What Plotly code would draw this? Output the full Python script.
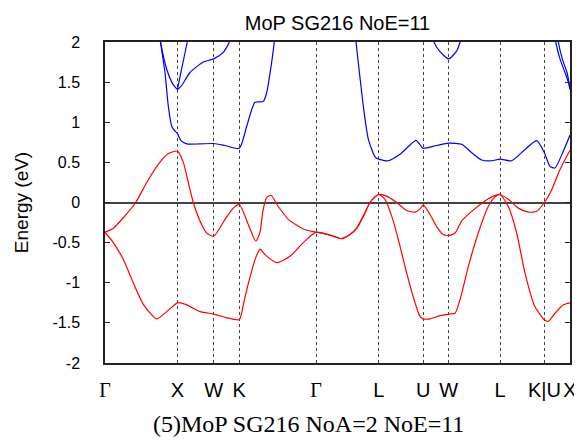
import plotly.graph_objects as go

# High-symmetry points (cumulative path length, 2*pi/a units)
tick_k = [0.0, 1.0, 1.5, 1.8536, 2.9142, 3.7802, 4.3926, 4.7462, 5.4533, 6.0657, 6.4193]
tick_text = ["<span style='font-family:Liberation Serif'>Γ</span>", "X", "W", "K",
             "<span style='font-family:Liberation Serif'>Γ</span>", "L", "U", "W", "L", "K|U", "X"]

# Valence band 1 (lower red)
vb1_k = [0.0, 0.115, 0.253, 0.391, 0.529, 0.714, 0.852, 1.0, 1.128, 1.311, 1.5, 1.657, 1.702,
         1.8536, 1.909, 1.956, 2.080, 2.140, 2.209, 2.370, 2.554, 2.738, 2.9142,
         3.083, 3.268, 3.382, 3.475, 3.566, 3.658, 3.727, 3.7802,
         3.865, 3.958, 4.049, 4.165, 4.280, 4.349, 4.3926, 4.487, 4.625, 4.7462,
         4.832, 4.901, 5.015, 5.153, 5.291, 5.384, 5.4533,
         5.568, 5.683, 5.798, 5.936, 6.0657, 6.120, 6.212, 6.327, 6.4193]
vb1_e = [-0.37, -0.50, -0.71, -1.00, -1.27, -1.45, -1.36, -1.25, -1.275, -1.36, -1.39, -1.43, -1.44,
         -1.46, -1.28, -1.09, -0.69, -0.58, -0.65, -0.75, -0.67, -0.50, -0.37,
         -0.40, -0.45, -0.40, -0.32, -0.17, 0.0, 0.07, 0.10,
         0.04, -0.17, -0.46, -0.88, -1.25, -1.42, -1.45, -1.45, -1.41, -1.39,
         -1.38, -1.21, -0.80, -0.38, -0.05, 0.07, 0.10,
         -0.05, -0.38, -0.88, -1.30, -1.46, -1.48, -1.38, -1.275, -1.25]

# Valence band 2 (upper red)
vb2_k = [0.0, 0.115, 0.253, 0.424, 0.576, 0.736, 0.874, 1.0, 1.081, 1.150, 1.219, 1.311, 1.404, 1.5,
         1.657, 1.771, 1.8536, 1.978, 2.080, 2.140, 2.181, 2.232, 2.292, 2.392, 2.530, 2.738, 2.9142,
         3.083, 3.268, 3.382, 3.475, 3.566, 3.658, 3.727, 3.7802,
         3.889, 4.027, 4.165, 4.280, 4.349, 4.3926, 4.487, 4.579, 4.670, 4.7462,
         4.832, 4.924, 5.062, 5.246, 5.360, 5.4533,
         5.568, 5.706, 5.844, 5.959, 6.0657, 6.167, 6.281, 6.4193]
vb2_e = [-0.37, -0.32, -0.19, 0.0, 0.25, 0.475, 0.61, 0.64, 0.50, 0.25, 0.0, -0.23, -0.38, -0.42,
         -0.21, -0.07, -0.025, -0.275, -0.48, -0.37, -0.10, 0.06, 0.09, -0.05, -0.21, -0.33, -0.37,
         -0.40, -0.45, -0.40, -0.32, -0.17, 0.0, 0.07, 0.10,
         0.08, 0.0, -0.10, -0.12, -0.08, -0.03, -0.15, -0.30, -0.40, -0.41,
         -0.38, -0.23, -0.11, 0.02, 0.08, 0.10,
         0.04, -0.07, -0.12, -0.11, 0.0, 0.16, 0.41, 0.65]

# Conduction band 1 (lower blue), two visible pieces
cb1a_k = [0.736, 0.766, 0.828, 0.874, 0.921, 0.966, 1.0, 1.049, 1.128, 1.311, 1.5, 1.657,
          1.8536, 1.956, 2.034, 2.071, 2.186, 2.232, 2.301, 2.337, 2.36]
cb1a_e = [2.2, 2.0, 1.62, 1.20, 0.95, 0.89, 0.86, 0.77, 0.73, 0.73, 0.735, 0.71,
          0.675, 0.95, 1.18, 1.25, 1.26, 1.37, 1.75, 2.0, 2.2]
cb1b_k = [3.44, 3.465, 3.566, 3.635, 3.727, 3.7802, 3.911, 4.072, 4.293, 4.349, 4.3926,
          4.579, 4.7462, 4.924, 5.062, 5.200, 5.338, 5.4533, 5.614, 5.798, 5.959,
          6.0657, 6.143, 6.212, 6.327, 6.4193]
cb1b_e = [2.2, 2.0, 1.20, 0.79, 0.57, 0.54, 0.52, 0.60, 0.775, 0.72, 0.675,
          0.71, 0.74, 0.725, 0.62, 0.53, 0.52, 0.54, 0.52, 0.66, 0.77,
          0.62, 0.45, 0.43, 0.64, 0.84]

# Conduction band 2 (Gamma-X-W-K)
cb2_k = [0.74, 0.766, 0.852, 0.921, 0.966, 1.0, 1.059, 1.173, 1.357, 1.5, 1.633, 1.716, 1.74]
cb2_e = [2.15, 2.0, 1.66, 1.50, 1.44, 1.41, 1.46, 1.62, 1.75, 1.79, 1.87, 2.0, 2.15]

# Conduction band 3 (steep branch leaving X)
cb3_k = [1.0, 1.059, 1.136, 1.16]
cb3_e = [1.41, 1.67, 2.0, 2.12]

# Conduction band near W (U-W-L)
cb4_k = [4.52, 4.542, 4.625, 4.7462, 4.855, 4.901, 4.92]
cb4_e = [2.13, 2.0, 1.88, 1.79, 1.89, 2.0, 2.12]

# Conduction bands near the final X
cb5_k = [6.20, 6.222, 6.281, 6.350, 6.396, 6.4193]
cb5_e = [2.1, 2.0, 1.79, 1.62, 1.50, 1.41]
cb6_k = [6.245, 6.258, 6.313, 6.378, 6.410, 6.4193]
cb6_e = [2.1, 2.0, 1.79, 1.62, 1.47, 1.41]

RED = "#ff0000"
BLUE = "#0000ff"

# The page body adds an 8px offset, so the figure is laid out 8px smaller.
W, H = 574, 432
L, T, R, B = 97, 34, 12, 77
PW, PH = W - L - R, H - T - B

fig = go.Figure()
for kk, ee, col in [(vb1_k, vb1_e, RED), (vb2_k, vb2_e, RED),
                    (cb1a_k, cb1a_e, BLUE), (cb1b_k, cb1b_e, BLUE),
                    (cb2_k, cb2_e, BLUE), (cb3_k, cb3_e, BLUE),
                    (cb4_k, cb4_e, BLUE), (cb5_k, cb5_e, BLUE), (cb6_k, cb6_e, BLUE)]:
    fig.add_trace(go.Scatter(x=kk, y=ee, mode="lines",
                             line=dict(color=col, width=1.2, shape="spline", smoothing=0.6),
                             showlegend=False, hoverinfo="skip"))

fig.update_layout(
    width=W, height=H,
    margin=dict(l=L, r=R, t=T, b=B, autoexpand=False),
    paper_bgcolor="white", plot_bgcolor="white",
    font=dict(family="Liberation Sans", size=16, color="black"),
    title=dict(text="MoP SG216 NoE=11", x=(L + PW / 2) / W, xanchor="center",
               y=(H - 15) / H, yanchor="middle", yref="container",
               font=dict(family="Liberation Sans", size=20, color="black")),
    showlegend=False,
)
fig.update_xaxes(
    range=[tick_k[0], tick_k[-1]],
    tickmode="array", tickvals=tick_k, ticktext=tick_text,
    tickfont=dict(size=20, family="Liberation Sans"),
    ticks="", ticklabelstandoff=8,
    showgrid=True, gridcolor="#444444", griddash="dot", gridwidth=1,
    zeroline=False,
    showline=True, linecolor="#222222", linewidth=1.5, mirror=True,
)
fig.update_yaxes(
    range=[-2, 2],
    tickmode="array", tickvals=[-2, -1.5, -1, -0.5, 0, 0.5, 1, 1.5, 2],
    ticktext=["-2", "-1.5", "-1", "-0.5", "0", "0.5", "1", "1.5", "2"],
    tickfont=dict(size=16, family="Liberation Sans"),
    ticks="inside", ticklen=5, tickcolor="#222222", ticklabelstandoff=20,
    showgrid=False,
    zeroline=True, zerolinecolor="#444444", zerolinewidth=1.5,
    showline=True, linecolor="#222222", linewidth=1.5, mirror="ticks",
    title=dict(text="Energy (eV)", font=dict(size=19, family="Liberation Sans"), standoff=19),
)
fig.add_annotation(text="(5)MoP SG216 NoA=2 NoE=11", xref="paper", yref="paper",
                   x=(300 - L) / PW, y=-(416 - (T + PH)) / PH, xanchor="center", yanchor="middle",
                   showarrow=False, font=dict(family="Liberation Serif", size=24, color="black"))

fig.write_html("out.html")
